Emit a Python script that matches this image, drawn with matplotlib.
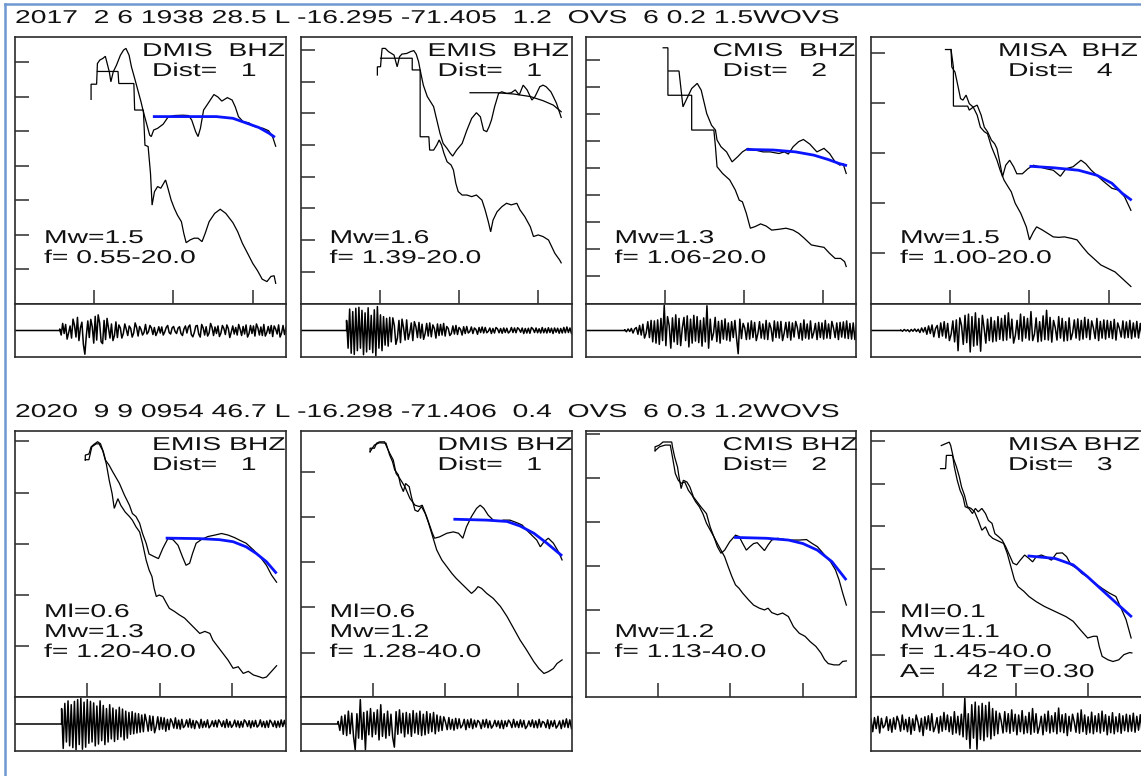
import numpy as np
import matplotlib
matplotlib.use("Agg")
import matplotlib.pyplot as plt
from matplotlib.lines import Line2D
from matplotlib.patheffects import AbstractPathEffect
from matplotlib.transforms import Affine2D

W, H = 1141, 776

# event headers
head_2017 = "2017  2 6 1938 28.5 L -16.295 -71.405  1.2  OVS  6 0.2 1.5WOVS"
head_2020 = "2020  9 9 0954 46.7 L -16.298 -71.406  0.4  OVS  6 0.3 1.2WOVS"

# spectra as (log10 f, log10 amplitude) pairs: signal, noise and source-model fit
dmis17_sig = [(-1.04,4.93),(-1.04,5.37),(-0.97,5.37),(-0.96,5.97),(-0.93,6.07),(-0.89,6.12),(-0.86,6.18),(-0.81,5.73),(-0.79,5.44),(-0.76,5.73),(-0.72,5.92),(-0.67,6.21),(-0.63,6.36),(-0.60,6.41),(-0.56,6.21),(-0.53,5.87),(-0.49,5.54),(-0.45,5.20),(-0.41,4.86),(-0.38,4.57),(-0.34,4.23),(-0.30,3.89),(-0.28,3.85),(-0.25,4.04),(-0.20,4.09),(-0.13,4.21),(-0.07,4.41),(0.01,4.46),(0.12,4.47),(0.19,4.46),(0.23,4.33),(0.28,3.99),(0.31,3.85),(0.34,4.09),(0.38,4.62),(0.43,4.79),(0.51,5.07),(0.56,5.00),(0.61,4.88),(0.68,4.98),(0.74,4.91),(0.78,4.71),(0.82,4.43),(0.88,4.28),(0.95,4.25),(1.01,4.15),(1.07,4.12),(1.13,4.09),(1.20,4.02),(1.25,3.85),(1.29,3.57)]
dmis17_noise = [(-0.96,5.74),(-0.70,5.74),(-0.69,5.39),(-0.50,5.39),(-0.49,4.62),(-0.38,4.62),(-0.36,3.60),(-0.32,3.56),(-0.29,2.78),(-0.27,1.86),(-0.24,2.25),(-0.20,2.40),(-0.16,2.35),(-0.10,2.59),(-0.07,2.35),(-0.03,2.01),(0.01,1.77),(0.05,1.57),(0.10,1.38),(0.13,1.04),(0.16,0.77),(0.21,0.85),(0.26,0.90),(0.31,0.90),(0.36,0.80),(0.40,1.04),(0.45,1.38),(0.52,1.62),(0.59,1.74),(0.66,1.62),(0.75,1.35),(0.81,1.09),(0.87,0.75),(0.94,0.44),(1.00,0.17),(1.06,-0.04),(1.12,-0.29),(1.18,-0.36),(1.23,-0.21),(1.27,-0.19),(1.29,-0.41)]
dmis17_fit = [(-0.26,4.43),(0.16,4.43),(0.54,4.43),(0.75,4.38),(0.91,4.25),(1.08,4.11),(1.21,3.94),(1.28,3.83)]

emis17_sig = [(-1.03,6.21),(-1.03,6.47),(-0.99,6.47),(-0.98,6.79),(-0.97,7.05),(-0.93,7.05),(-0.89,6.95),(-0.82,6.84),(-0.78,6.47),(-0.75,6.79),(-0.72,6.87),(-0.66,6.89),(-0.61,6.95),(-0.57,6.98),(-0.54,6.87),(-0.51,6.63),(-0.49,6.37),(-0.45,5.89),(-0.40,5.53),(-0.36,5.37),(-0.32,5.21),(-0.28,4.79),(-0.24,4.37),(-0.20,4.05),(-0.15,3.89),(-0.11,3.74),(-0.08,3.65),(-0.03,3.84),(0.04,4.05),(0.10,4.47),(0.16,4.84),(0.22,5.02),(0.27,4.89),(0.31,4.47),(0.35,4.42),(0.38,4.58),(0.41,4.79),(0.45,5.21),(0.50,5.63),(0.54,5.68),(0.60,5.63),(0.66,5.65),(0.71,5.74),(0.76,5.58),(0.81,5.89),(0.86,5.74),(0.92,5.42),(0.96,5.53),(1.02,5.84),(1.06,5.89),(1.10,5.84),(1.16,5.68),(1.19,5.53),(1.23,5.32),(1.29,4.87)]
emis17_noise = [(-0.99,6.74),(-0.59,6.74),(-0.59,6.37),(-0.49,6.37),(-0.49,4.26),(-0.38,4.26),(-0.37,3.84),(-0.32,3.84),(-0.28,4.00),(-0.25,4.16),(-0.22,4.00),(-0.19,3.74),(-0.15,3.47),(-0.10,3.37),(-0.07,3.21),(-0.04,2.79),(-0.01,2.53),(0.04,2.42),(0.10,2.42),(0.16,2.37),(0.22,2.42),(0.29,2.26),(0.33,1.95),(0.37,1.58),(0.40,1.26),(0.43,1.63),(0.48,1.89),(0.54,2.05),(0.60,2.16),(0.66,2.11),(0.73,2.16),(0.77,1.95),(0.83,1.74),(0.90,1.42),(0.94,1.11),(1.00,1.16),(1.06,1.11),(1.13,1.00),(1.17,0.79),(1.21,0.58),(1.27,0.37),(1.29,0.28)]
emis17_fit = [(0.14,5.65),(0.48,5.65),(0.69,5.61),(0.90,5.53),(1.06,5.40),(1.19,5.26),(1.29,5.05)]

cmis17_sig = [(-0.95,7.60),(-0.82,7.60),(-0.77,6.27),(-0.73,6.52),(-0.66,6.95),(-0.59,7.14),(-0.54,6.89),(-0.47,6.02),(-0.41,5.59),(-0.36,5.41),(-0.34,5.04),(-0.29,4.79),(-0.22,4.60),(-0.15,4.23),(-0.08,4.42),(-0.02,4.60),(0.05,4.73),(0.14,4.67),(0.24,4.60),(0.33,4.60),(0.44,4.54),(0.51,4.60),(0.56,4.52),(0.62,4.79),(0.69,4.98),(0.75,5.06),(0.83,4.89),(0.92,4.60),(1.01,4.73),(1.08,4.54),(1.15,4.23),(1.21,4.11),(1.25,4.17),(1.29,3.80)]
cmis17_noise = [(-1.02,8.46),(-0.96,8.46),(-0.96,6.70),(-0.66,6.70),(-0.66,5.41),(-0.38,5.41),(-0.36,4.79),(-0.34,4.05),(-0.27,3.80),(-0.18,3.56),(-0.11,3.19),(-0.06,2.81),(-0.02,2.75),(0.03,2.32),(0.08,1.77),(0.14,1.83),(0.21,1.93),(0.28,1.85),(0.35,1.70),(0.44,1.73),(0.53,1.77),(0.62,1.70),(0.69,1.58),(0.76,1.40),(0.85,1.15),(0.92,1.11),(1.01,1.06),(1.08,0.84),(1.15,0.65),(1.22,0.65),(1.27,0.53),(1.29,0.35)]
cmis17_fit = [(0.03,4.69),(0.37,4.67),(0.65,4.60),(0.88,4.48),(1.06,4.32),(1.20,4.17),(1.30,4.09)]

misa17_sig = [(-1.06,4.07),(-0.99,4.07),(-0.98,3.72),(-0.94,3.62),(-0.90,3.32),(-0.87,3.09),(-0.84,3.06),(-0.80,3.16),(-0.76,2.99),(-0.71,2.92),(-0.66,2.96),(-0.61,2.76),(-0.57,2.52),(-0.53,2.43),(-0.48,2.26),(-0.44,2.19),(-0.41,2.09),(-0.38,1.86),(-0.34,1.53),(-0.30,1.76),(-0.25,1.86),(-0.20,1.73),(-0.16,1.59),(-0.09,1.59),(-0.02,1.69),(0.05,1.76),(0.12,1.73),(0.21,1.69),(0.30,1.66),(0.39,1.54),(0.46,1.69),(0.55,1.73),(0.65,1.86),(0.71,1.79),(0.78,1.66),(0.85,1.56),(0.94,1.43),(1.04,1.30),(1.13,1.26),(1.20,1.13),(1.28,0.86)]
misa17_noise = [(-0.99,4.07),(-0.96,3.72),(-0.96,2.94),(-0.78,2.94),(-0.76,2.86),(-0.71,2.92),(-0.66,2.76),(-0.62,2.52),(-0.57,2.43),(-0.53,2.39),(-0.48,2.13),(-0.41,1.86),(-0.37,1.66),(-0.32,1.46),(-0.27,1.33),(-0.23,1.23),(-0.18,1.00),(-0.11,0.80),(-0.04,0.53),(0.00,0.27),(0.05,0.43),(0.09,0.53),(0.16,0.47),(0.23,0.40),(0.30,0.33),(0.37,0.32),(0.44,0.33),(0.53,0.30),(0.60,0.27),(0.67,0.13),(0.74,0.00),(0.81,-0.10),(0.90,-0.23),(0.99,-0.30),(1.08,-0.37),(1.17,-0.50),(1.28,-0.66)]
misa17_fit = [(0.00,1.74),(0.30,1.71),(0.62,1.66),(0.85,1.56),(1.04,1.40),(1.17,1.20),(1.29,1.06)]

emis20_sig = [(-1.03,3.63),(-1.03,3.73),(-0.98,3.75),(-0.95,3.89),(-0.91,3.94),(-0.86,3.99),(-0.82,3.95),(-0.78,3.79),(-0.75,3.63),(-0.70,3.53),(-0.65,3.40),(-0.56,3.18),(-0.49,2.95),(-0.42,2.75),(-0.38,2.59),(-0.33,2.53),(-0.28,2.40),(-0.24,2.20),(-0.19,2.01),(-0.15,1.80),(-0.08,1.75),(-0.02,1.71),(0.04,1.91),(0.11,2.10),(0.18,2.08),(0.25,1.97),(0.31,1.75),(0.36,1.58),(0.41,1.62),(0.45,1.81),(0.50,2.01),(0.57,2.08),(0.66,2.14),(0.76,2.17),(0.85,2.20),(0.94,2.17),(1.03,2.12),(1.10,2.07),(1.19,2.01),(1.29,1.88),(1.38,1.75),(1.47,1.58),(1.54,1.39),(1.61,1.25)]
emis20_noise = [(-1.03,3.64),(-0.98,3.64),(-0.94,3.89),(-0.88,3.95),(-0.84,3.95),(-0.79,3.82),(-0.74,3.56),(-0.70,3.24),(-0.66,2.98),(-0.63,2.69),(-0.58,2.88),(-0.54,2.75),(-0.48,2.62),(-0.42,2.53),(-0.38,2.46),(-0.33,2.33),(-0.28,2.23),(-0.24,2.01),(-0.19,1.68),(-0.15,1.49),(-0.11,1.36),(-0.08,1.13),(-0.05,0.97),(-0.01,1.00),(0.04,0.97),(0.09,0.84),(0.13,0.74),(0.20,0.68),(0.27,0.61),(0.34,0.55),(0.41,0.45),(0.48,0.35),(0.55,0.25),(0.62,0.29),(0.69,0.25),(0.73,0.12),(0.80,-0.01),(0.87,-0.14),(0.94,-0.27),(1.01,-0.43),(1.08,-0.40),(1.15,-0.53),(1.22,-0.49),(1.29,-0.56),(1.36,-0.59),(1.42,-0.62),(1.47,-0.60),(1.54,-0.49),(1.61,-0.38)]
emis20_fit = [(0.08,2.11),(0.55,2.10),(0.82,2.08),(1.01,2.04),(1.19,1.94),(1.33,1.81),(1.47,1.65),(1.61,1.42)]

dmis20_sig = [(-1.04,4.44),(-1.04,4.52),(-0.98,4.52),(-0.95,4.63),(-0.91,4.66),(-0.84,4.66),(-0.81,4.55),(-0.77,4.41),(-0.72,4.26),(-0.68,3.96),(-0.63,3.85),(-0.56,3.67),(-0.49,3.41),(-0.42,3.26),(-0.36,3.23),(-0.32,3.26),(-0.26,3.01),(-0.21,2.78),(-0.18,2.64),(-0.15,2.53),(-0.08,2.56),(0.02,2.64),(0.11,2.67),(0.18,2.64),(0.24,2.53),(0.29,2.78),(0.36,3.01),(0.43,3.19),(0.48,3.26),(0.53,3.19),(0.59,3.04),(0.66,2.93),(0.73,2.90),(0.80,2.93),(0.89,2.93),(0.99,2.87),(1.06,2.82),(1.12,2.71),(1.19,2.60),(1.26,2.49),(1.31,2.34),(1.36,2.45),(1.42,2.53),(1.49,2.42),(1.56,2.23),(1.61,2.05)]
dmis20_noise = [(-1.04,4.44),(-0.98,4.59),(-0.91,4.64),(-0.82,4.63),(-0.77,4.37),(-0.73,4.22),(-0.70,4.04),(-0.65,3.93),(-0.62,3.71),(-0.58,3.56),(-0.55,3.74),(-0.50,3.67),(-0.47,3.45),(-0.42,3.15),(-0.38,3.12),(-0.33,3.23),(-0.28,3.08),(-0.24,2.90),(-0.19,2.64),(-0.12,2.27),(-0.05,2.05),(0.02,1.90),(0.09,1.75),(0.15,1.64),(0.22,1.53),(0.29,1.42),(0.36,1.31),(0.41,1.38),(0.45,1.46),(0.50,1.42),(0.57,1.31),(0.66,1.20),(0.76,1.02),(0.85,0.80),(0.94,0.54),(1.03,0.28),(1.12,0.06),(1.22,-0.20),(1.29,-0.35),(1.36,-0.46),(1.42,-0.42),(1.49,-0.35),(1.54,-0.24),(1.61,-0.16)]
dmis20_fit = [(0.11,2.95),(0.57,2.93),(0.85,2.90),(1.03,2.80),(1.22,2.64),(1.40,2.42),(1.61,2.14)]

cmis20_sig = [(-1.04,4.61),(-1.04,4.70),(-0.98,4.74),(-0.93,4.81),(-0.81,4.81),(-0.80,4.70),(-0.77,4.47),(-0.73,4.24),(-0.71,4.02),(-0.68,3.75),(-0.65,3.94),(-0.60,3.90),(-0.56,3.79),(-0.51,3.56),(-0.46,3.45),(-0.41,3.34),(-0.33,3.18),(-0.28,2.88),(-0.23,2.66),(-0.18,2.43),(-0.13,2.28),(-0.08,2.35),(-0.01,2.54),(0.07,2.69),(0.12,2.66),(0.17,2.50),(0.22,2.35),(0.27,2.43),(0.32,2.50),(0.37,2.52),(0.42,2.43),(0.47,2.34),(0.52,2.47),(0.57,2.58),(0.65,2.62),(0.75,2.59),(0.85,2.58),(0.95,2.58),(1.05,2.59),(1.13,2.50),(1.20,2.43),(1.30,2.24),(1.38,2.09),(1.45,1.90),(1.50,1.67),(1.55,1.37),(1.60,1.10)]
cmis20_noise = [(-1.04,4.61),(-0.98,4.70),(-0.90,4.74),(-0.83,4.74),(-0.80,4.47),(-0.76,4.09),(-0.72,3.94),(-0.68,3.87),(-0.63,3.90),(-0.58,3.71),(-0.53,3.60),(-0.48,3.45),(-0.43,3.34),(-0.38,3.18),(-0.33,2.96),(-0.28,2.81),(-0.23,2.66),(-0.18,2.50),(-0.13,2.35),(-0.08,2.20),(-0.03,1.97),(0.02,1.75),(0.07,1.56),(0.12,1.48),(0.17,1.37),(0.25,1.22),(0.32,1.10),(0.40,1.03),(0.47,0.99),(0.52,1.03),(0.57,0.93),(0.65,0.88),(0.72,0.92),(0.80,0.84),(0.87,0.61),(0.95,0.46),(1.03,0.39),(1.10,0.27),(1.18,0.16),(1.25,0.01),(1.30,-0.14),(1.35,-0.23),(1.43,-0.26),(1.50,-0.26),(1.55,-0.18),(1.60,-0.17)]
cmis20_fit = [(0.05,2.64),(0.50,2.62),(0.80,2.58),(1.00,2.50),(1.20,2.35),(1.40,2.09),(1.60,1.67)]

misa20_sig = [(-1.04,4.35),(-0.97,4.35),(-0.96,4.66),(-0.88,4.66),(-0.87,4.62),(-0.85,4.39),(-0.81,4.08),(-0.77,3.84),(-0.73,3.69),(-0.70,3.46),(-0.65,3.42),(-0.60,3.30),(-0.56,3.42),(-0.52,3.34),(-0.47,3.42),(-0.42,3.30),(-0.38,3.14),(-0.33,3.07),(-0.29,2.83),(-0.24,2.76),(-0.19,2.68),(-0.14,2.52),(-0.09,2.33),(-0.04,2.14),(0.01,2.10),(0.06,2.21),(0.12,2.33),(0.18,2.25),(0.23,2.17),(0.28,2.29),(0.35,2.33),(0.41,2.29),(0.49,2.21),(0.56,2.37),(0.64,2.38),(0.70,2.29),(0.76,2.10),(0.84,2.02),(0.91,1.90),(0.99,1.82),(1.09,1.67),(1.19,1.55),(1.29,1.44),(1.38,1.36),(1.44,1.13),(1.52,0.82),(1.59,0.39)]
misa20_noise = [(-1.03,4.89),(-0.92,4.97),(-0.90,4.89),(-0.86,4.58),(-0.82,4.39),(-0.78,4.15),(-0.75,3.92),(-0.71,3.73),(-0.67,3.46),(-0.62,3.42),(-0.57,3.34),(-0.52,3.14),(-0.47,2.91),(-0.42,2.99),(-0.37,2.80),(-0.32,2.72),(-0.27,2.68),(-0.22,2.64),(-0.17,2.60),(-0.12,2.37),(-0.07,2.06),(-0.02,1.75),(0.03,1.59),(0.11,1.48),(0.18,1.36),(0.28,1.24),(0.39,1.13),(0.49,1.05),(0.59,0.97),(0.69,0.89),(0.79,0.78),(0.89,0.58),(0.99,0.39),(1.07,0.43),(1.12,0.43),(1.15,0.19),(1.19,-0.04),(1.27,-0.12),(1.34,-0.16),(1.42,-0.12),(1.49,0.00),(1.57,0.05),(1.60,0.04)]
misa20_fit = [(0.16,2.31),(0.54,2.25),(0.79,2.10),(0.99,1.82),(1.19,1.51),(1.39,1.20),(1.60,0.88)]

# seismogram amplitudes after the onset (percent of half trace height)
dmis17_wave = [6,-18,28,-12,24,-34,-10,18,-30,45,20,-26,52,-40,10,33,-55,-94,-20,38,-28,44,15,-50,56,-38,62,30,-45,-52,40,-36,48,10,-30,26,-40,-20,34,-28,
               22,10,-30,-12,26,5,-20,18,8,-26,-10,30,12,-22,16,4,-18,-8,24,-14,-5,20,10,-16,12,-20,-6,15,-10,14,
               -18,-6,12,20,-8,-14,10,16,-4,-12,9,15,-12,-20,6,18,-10,14,22,-16,-25,-8,18,20,-14,-26,24,10,-18,15,-22,-10,28,12,-20,14,-12,18,-24,-10,
               20,8,-16,22,8,-28,-6,18,-14,12,-18,24,4,-20,16,-14,22,-26,-12,20,-12,18,-22,26,10,-18,14,-20,24,-22,-8,16,-12,20,-24,18,6,-14,22,-26,-10,20,-16,12]
emis17_wave = [40,-70,85,-90,75,-95,88,-80,92,-70,80,-96,70,-85,90,-75,60,-88,82,-100,95,-70,62,-80,55,-58,48,-62,52,-45,
               50,20,-55,-30,40,-48,45,10,-38,42,-35,-10,30,-40,35,15,-28,32,-30,25,-35,-12,28,-22,30,-25,22,8,-30,26,-20,24,-18,28,-22,16,
               8,-20,-12,18,-14,20,-16,12,4,-18,15,-12,16,-10,-4,14,-12,10,4,-15,12,-8,14,-10,12,-9,-3,10,-12,8,-10,12,6,-9,8,-11,10,-8,9,-10,-4,12,
               -8,10,-9,11,5,-7,10,-12,8,-10,9,-11,12,6,-8,10,-9,7,-10,12,-9,8,-10,11,-8,9,-12,10,-7,9,-11,8,-10,12,-9,14,-8,10,-12]
cmis17_wave = [3,-5,6,-4,8,-10,6,12,-15,20,-18,25,-30,-10,35,-28,40,-45,38,-50,42,-55,48,-40,100,-60,55,20,-70,50,-45,62,-55,48,-60,10,52,-40,58,-65,45,-50,60,
               -42,55,-48,40,-62,50,-45,98,-70,45,-38,-10,52,-44,36,-50,40,-34,46,-38,30,-42,35,-28,40,-30,-92,45,-32,28,10,-36,30,-34,38,-28,32,-40,-12,35,-30,
               26,-34,40,-36,30,8,-42,38,-28,34,-30,36,-40,-10,32,-28,34,-38,30,-26,36,12,-32,28,-38,42,-30,26,-34,38,-30,-8,28,-36,32,-28,30,-34,40,-30,26,
               -32,36,10,-28,30,-36,32,-26,34,-30,38,-32,28,-34,30,-36,26]
misa17_wave = [2,-3,4,-2,3,-5,4,-3,6,-4,5,-8,10,-6,12,-15,18,-12,22,-25,8,20,-28,30,-22,35,-30,28,-40,-15,38,-45,42,-80,50,20,-55,60,-48,65,-85,55,-62,70,
               -58,48,-82,60,10,-50,45,-40,52,-45,38,-42,55,-35,48,-40,60,-38,70,-30,45,-50,-20,40,-35,65,-42,55,-30,48,-38,75,-40,-15,50,-45,35,-42,58,-36,
               80,-38,52,-46,40,12,-38,55,-30,48,-42,35,-40,50,-36,-10,42,-30,46,-38,40,-34,52,-28,44,-36,38,10,-32,48,-40,36,-30,42,-34,40,-28,36,-32,44,
               -38,30,8,-26,38,-30,34,-28,40,-32,30,-26,36,-30,28,-24]
emis20_wave = [60,-95,80,-70,90,-85,75,-92,88,-100,95,-80,100,-98,85,-90,95,-75,88,-70,82,-85,70,-78,90,-65,72,-80,60,-70,75,-58,62,-68,55,-60,65,-50,58,-62,
               50,-55,45,-40,48,-38,42,-35,40,-32,35,-30,38,10,-28,32,-25,30,-34,-10,28,-22,26,-20,24,-28,18,-22,20,8,-16,24,-18,15,-20,18,-14,-6,16,-12,20,
               -15,14,-18,12,4,-16,18,-14,10,-12,16,-15,-6,12,-10,14,-12,16,6,-10,12,-14,18,-12,10,-13,-4,15,-11,12,-14,10,-12,16,8,-10,13,-15,12,-10,14,
               -12,-5,16,-11,10,-14,12,-13,15,6,-10,12,-14,11,-12,16,-10,14,-12]
dmis20_wave = [10,-25,30,-40,35,-45,50,-38,42,-48,-100,40,-55,95,-60,45,-100,50,-42,60,-50,45,-40,55,-62,75,-48,40,-55,50,-45,38,-52,-90,48,-40,55,-35,42,-50,
               45,-38,40,-48,52,-35,42,-40,50,-45,38,-42,48,-36,40,-30,45,-38,35,-28,30,-25,28,8,-22,25,-20,18,-24,22,-18,20,-15,-5,18,-22,16,-14,20,-18,15,
               -12,14,6,-18,16,-12,18,-15,12,-16,-6,14,-10,12,-16,14,-18,12,-10,15,6,-14,18,-12,10,-14,16,-12,14,-18,-8,12,-10,16,-14,12,-15,18,-12,10,5,
               -14,16,-18,12,-10,14,-16,-6,12,-18,15,-12,20,-14,16,-18]
misa20_wave = [20,-30,25,-18,30,-35,22,-15,-5,28,-25,18,-32,24,-20,30,10,-28,35,-22,18,-30,26,-40,20,-25,35,8,-30,22,-45,28,-20,32,-25,40,-30,-10,25,-35,30,
               -28,45,-22,35,-30,28,-40,48,-35,30,-42,38,-50,100,-60,40,-95,75,-55,85,-98,70,-60,80,-65,72,-50,85,-58,60,-45,50,-38,42,10,-35,48,-30,40,-36,
               55,-28,38,-42,35,-30,52,-38,30,-34,45,-40,60,-32,40,-36,-10,30,-42,38,-28,50,-35,32,-30,44,-38,62,-30,36,-34,40,-45,30,-28,38,8,-32,42,-36,
               55,-30,35,-40,28,-34,46,-38,32,-30,40,-35,50,-28,36,-42,30,-34,44,-38,28,-30,40,-36,32,-26,38,-30,34,-28,42,-32,30,-24,36,-30]

# trace onset as a fraction of the window
onsets = {"dmis17": 0.165, "emis17": 0.17, "cmis17": 0.145, "misa17": 0.11,
          "emis20": 0.172, "dmis20": 0.139, "misa20": 0.0}

rows = [
    dict(header=head_2017, top=37, spec_h=267, wave_h=53, xmax=1.42, label_dx=127, panels=[
        dict(key="dmis17", sta="DMIS  BHZ", dist=1, ylim=(-1.01, 6.74), nt=7, fit_color="blue",
             lines=["Mw=1.5", "f= 0.55-20.0"]),
        dict(key="emis17", sta="EMIS  BHZ", dist=1, ylim=(-1.02, 7.41), nt=8, fit_color="black",
             lines=["Mw=1.6", "f= 1.39-20.0"]),
        dict(key="cmis17", sta="CMIS  BHZ", dist=2, ylim=(-1.04, 8.86), nt=9, fit_color="blue",
             lines=["Mw=1.3", "f= 1.06-20.0"]),
        dict(key="misa17", sta="MISA  BHZ", dist=4, ylim=(-1.01, 4.32), nt=5, fit_color="blue",
             lines=["Mw=1.5", "f= 1.00-20.0"]),
    ]),
    dict(header=head_2020, top=431, spec_h=266, wave_h=54, xmax=1.74, label_dx=137, panels=[
        dict(key="emis20", sta="EMIS BHZ", dist=1, ylim=(-0.99, 4.20), nt=5, fit_color="blue",
             lines=["Ml=0.6", "Mw=1.3", "f= 1.20-40.0"]),
        dict(key="dmis20", sta="DMIS BHZ", dist=1, ylim=(-0.98, 4.90), nt=5, fit_color="blue",
             lines=["Ml=0.6", "Mw=1.2", "f= 1.28-40.0"]),
        dict(key="cmis20", sta="CMIS BHZ", dist=2, ylim=(-0.99, 5.06), nt=6, fit_color="blue",
             lines=["Mw=1.2", "f= 1.13-40.0"]),
        dict(key="misa20", sta="MISA BHZ", dist=3, ylim=(-0.99, 5.23), nt=6, fit_color="blue",
             lines=["Ml=0.1", "Mw=1.1", "f= 1.45-40.0", "A=    42 T=0.30"]),
    ]),
]

panel_left = [15, 300.5, 585.5, 871]
panel_w = 271
line_slot = {"Ml": 186, "Mw": 206, "f=": 226, "A=": 246}


class Widen(AbstractPathEffect):
    """Draw glyphs stretched horizontally, like the wide SEISAN plot font."""
    def __init__(self, sx):
        super().__init__()
        self.sx = sx

    def draw_path(self, renderer, gc, tpath, affine, rgbFace=None):
        renderer.draw_path(gc, tpath, Affine2D().scale(self.sx, 1.0) + affine, rgbFace)


plt.rcParams["font.family"] = ["Liberation Sans", "DejaVu Sans"]
fig = plt.figure(figsize=(W / 100, H / 100), dpi=100)
fig.patch.set_facecolor("white")
wide = [Widen(1.52)]
box_col = "#2b2b2b"


def px_axes(left, top, width, height):
    return fig.add_axes([left / W, 1 - (top + height) / H, width / W, height / H])


def put(x, y, s):
    fig.text(x / W, 1 - y / H, s, ha="left", va="baseline", fontsize=13.4,
             color="#111111", path_effects=wide)


for row in rows:
    top = row["top"]
    put(15, top - 14, row["header"])
    for i, p in enumerate(row["panels"]):
        L = panel_left[i]
        key = p["key"]
        ax = px_axes(L, top, panel_w, row["spec_h"])
        for arr in (globals()[key + "_noise"], globals()[key + "_sig"]):
            a = np.array(arr)
            ax.plot(a[:, 0], a[:, 1], color="black", lw=0.9, solid_joinstyle="miter")
        fit = np.array(globals()[key + "_fit"])
        if p["fit_color"] == "blue":
            ax.plot(fit[:, 0], fit[:, 1], color="#0a14ff", lw=2.0, solid_capstyle="butt")
        else:
            ax.plot(fit[:, 0], fit[:, 1], color="black", lw=0.9)
        ax.set_xlim(-2.0, row["xmax"])
        ax.set_ylim(*p["ylim"])
        ax.set_xticks([-1, 0, 1])
        ax.set_yticks(range(p["nt"]))
        ax.tick_params(direction="in", length=10, width=1.1, color=box_col,
                       labelleft=False, labelbottom=False)
        for s in ax.spines.values():
            s.set_linewidth(1.2)
            s.set_color(box_col)

        put(L + row["label_dx"], top + 19, p["sta"])
        put(L + 137, top + 39, "Dist=   %d" % p["dist"])
        for ln in p["lines"]:
            put(L + 29, top + line_slot[ln[:2]], ln)

        wave_name = key + "_wave"
        if wave_name in globals():
            wv = np.array(globals()[wave_name]) / 100.0
            t0 = onsets[key]
            t = np.linspace(t0, 1.0, len(wv))
            if t0 > 0:
                t = np.concatenate([[0.0, t0], t])
                wv = np.concatenate([[0.0, 0.0], wv])
            axw = px_axes(L, top + row["spec_h"], panel_w, row["wave_h"])
            axw.plot(t, wv, color="black", lw=1.1)
            axw.set_xlim(0, 1)
            axw.set_ylim(-1.05, 1.05)
            axw.set_xticks([])
            axw.set_yticks([])
            for s in axw.spines.values():
                s.set_linewidth(1.2)
                s.set_color(box_col)

# page frame along the top and left edges
frame = "#6f98d0"
fig.add_artist(Line2D([5 / W, 5 / W], [0, 1 - 4 / H], color=frame, lw=1.8))
fig.add_artist(Line2D([5 / W, 1], [1 - 4 / H, 1 - 4 / H], color=frame, lw=1.8))

fig.savefig("out.png", dpi=100, facecolor="white")
